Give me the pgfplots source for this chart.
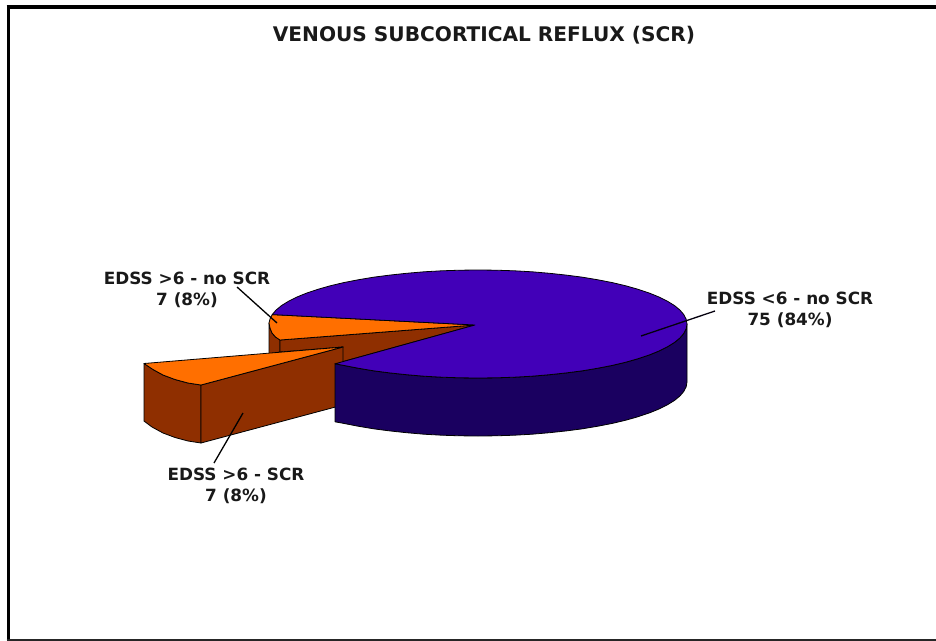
\documentclass[border=0pt]{standalone}
\usepackage{pgfplots}
\pgfplotsset{compat=1.18}
\usepackage{fontspec}
\setmainfont{DejaVu Sans}
\definecolor{purpletop}{RGB}{66,0,184}
\definecolor{purpleside}{RGB}{26,0,96}
\definecolor{orangetop}{RGB}{255,111,0}
\definecolor{brownside}{RGB}{143,47,0}
\begin{document}
\begin{tikzpicture}
\begin{axis}[width=936bp,height=641bp,scale only axis,xmin=0,xmax=936,ymin=0,ymax=641,y dir=reverse,
 axis lines=none,clip=true,
 every axis plot/.append style={line join=round}]
% extent of the page
\addplot[draw=none,no marks] coordinates {(0,0) (936,641)};
% frame
\addplot[black,line width=3bp,no marks] coordinates {(8,640) (8,7.2)};
\addplot[black,line width=4.3bp,no marks] coordinates {(6.5,7.2) (936,7.2)};
\addplot[black!85,line width=1.5bp,no marks] coordinates {(6.5,640.2) (936,640.2)};
% in-place small slice
\addplot[fill=brownside,draw=black,line width=0.8bp] coordinates {(269,323) (270,328) (272,333) (275.5,337) (280,340) (280,352) (269,354)} --cycle;
\addplot[fill=brownside,draw=black,line width=0.8bp] coordinates {(280,340) (475,325) (335,363.8) (343,347) (280,352)} --cycle;
\addplot[fill=orangetop,draw=black,line width=0.8bp] coordinates {(475,325) (272.2,314.6) (270,319) (269,323) (270,328) (272,333) (275.5,337) (280,340)} --cycle;
% exploded slice
\addplot[fill=brownside,draw=black,line width=0.8bp] coordinates {(144,363.5) (153,369.5) (163,375) (175,379.5) (188,383) (201,385) (201,443) (188,441) (175,437.5) (163,433) (152,427) (144,421)} --cycle;
\addplot[fill=brownside,draw=black,line width=0.8bp] coordinates {(201,385) (343,347) (343,405) (201,443)} --cycle;
\addplot[fill=orangetop,draw=black,line width=0.8bp] coordinates {(144,363.5) (343,347) (201,385) (188,383) (175,379.5) (163,375) (153,369.5)} --cycle;
% side of large slice
\addplot[fill=purpleside,draw=black,line width=0.8bp] coordinates {(687,324) (686.2,328.7) (683.8,333.4) (679.9,338) (674.4,342.5) (667.4,346.8) (659,351) (649.2,355) (638.1,358.7) (625.8,362.2) (612.3,365.4) (597.9,368.2) (582.5,370.8) (566.3,372.9) (549.5,374.7) (532.1,376.2) (514.3,377.2) (496.2,377.8) (478,378) (459.8,377.8) (441.7,377.2) (423.9,376.2) (406.5,374.7) (389.7,372.9) (373.5,370.8) (358.1,368.2) (343.7,365.4) (335,363.8)
 (335,421.8) (343.7,423.4) (358.1,426.2) (373.5,428.8) (389.7,430.9) (406.5,432.7) (423.9,434.2) (441.7,435.2) (459.8,435.8) (478,436) (496.2,435.8) (514.3,435.2) (532.1,434.2) (549.5,432.7) (566.3,430.9) (582.5,428.8) (597.9,426.2) (612.3,423.4) (625.8,420.2) (638.1,416.7) (649.2,413) (659,409) (667.4,404.8) (674.4,400.5) (679.9,396) (683.8,391.4) (686.2,386.7) (687,382)} --cycle;
% top of large slice
\addplot[fill=purpletop,draw=black,line width=0.8bp] coordinates {(475,325) (272.2,314.6) (276.1,310) (281.6,305.5) (288.6,301.2) (297,297) (306.8,293) (317.9,289.3) (330.2,285.8) (343.7,282.6) (358.1,279.8) (373.5,277.2) (389.7,275.1) (406.5,273.3) (423.9,271.8) (441.7,270.8) (459.8,270.2) (478,270) (496.2,270.2) (514.3,270.8) (532.1,271.8) (549.5,273.3) (566.3,275.1) (582.5,277.2) (597.9,279.8) (612.3,282.6) (625.8,285.8) (638.1,289.3) (649.2,293) (659,297) (667.4,301.2) (674.4,305.5) (679.9,310) (683.8,314.6) (686.2,319.3) (687,324) (686.2,328.7) (683.8,333.4) (679.9,338) (674.4,342.5) (667.4,346.8) (659,351) (649.2,355) (638.1,358.7) (625.8,362.2) (612.3,365.4) (597.9,368.2) (582.5,370.8) (566.3,372.9) (549.5,374.7) (532.1,376.2) (514.3,377.2) (496.2,377.8) (478,378) (459.8,377.8) (441.7,377.2) (423.9,376.2) (406.5,374.7) (389.7,372.9) (373.5,370.8) (358.1,368.2) (343.7,365.4) (335,363.8)} --cycle;
% leaders
\addplot[black,line width=1.3bp] coordinates {(237,287) (277,323)};
\addplot[black,line width=1.3bp] coordinates {(243,413) (214,463)};
\addplot[black!85!purpleside,line width=1.3bp] coordinates {(715,311) (641,336)};
% text
\node[font=\bfseries\fontsize{20.2}{24}\selectfont,text=black!90] at (axis cs:484,35) {VENOUS SUBCORTICAL REFLUX (SCR)};
\node[font=\bfseries\fontsize{16.9}{21}\selectfont,align=center,text=black!90] at (axis cs:187,290) {EDSS >6 - no SCR\\7 (8\%)};
\node[font=\bfseries\fontsize{16.9}{21}\selectfont,align=center,text=black!90] at (axis cs:236,486) {EDSS >6 - SCR\\7 (8\%)};
\node[font=\bfseries\fontsize{16.9}{21}\selectfont,align=center,text=black!90] at (axis cs:790,310) {EDSS <6 - no SCR\\75 (84\%)};
\end{axis}
\end{tikzpicture}
\end{document}
